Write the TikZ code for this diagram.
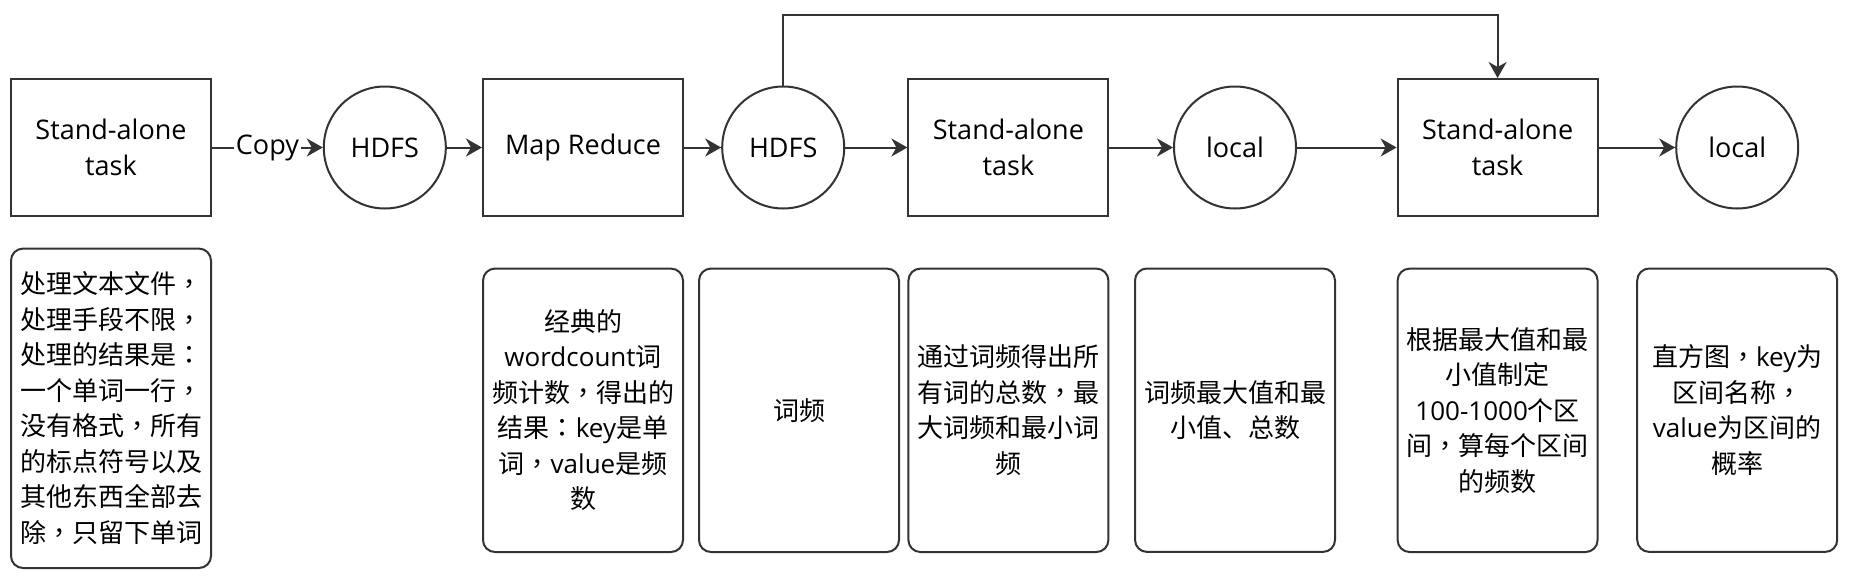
\documentclass[tikz,border=0pt]{standalone}
\usepackage{fontspec}
\setmainfont{Open Sans}
\newfontfamily\cjk{Noto Sans CJK SC}
\newfontfamily\cjktc{Noto Sans CJK TC}
\newcommand\latn[1]{{\normalfont #1}}
% centred full-width punctuation
\catcode`\，=\active \def，{{\cjktc\string，}}
\catcode`\：=\active \def：{{\cjktc\string：}}
\usetikzlibrary{arrows.meta,
                positioning}
\definecolor{linegray}{HTML}{333333}
\tikzset{
        base/.style={draw=linegray, line width=1pt, align=center, inner sep=0pt,
                     font=\fontsize{13.5}{17.75}\selectfont},
        task/.style={base, rectangle, minimum width=100pt, minimum height=68.5pt},
        store/.style={base, circle, minimum size=61pt},
        note/.style={base, rectangle, rounded corners=6pt, minimum width=100pt,
                     minimum height=141.7pt, font=\fontsize{13}{17.75}\selectfont\cjk},
        lbl/.style={fill=white, inner sep=1pt, font=\fontsize{13.5}{17.75}\selectfont},
        myarrow/.style={-{Stealth[length=8pt, width=9pt, inset=2.5pt]}, draw=linegray,
                        line width=1pt},
}

\begin{document}
\begin{tikzpicture}[x=0.5pt, y=-0.5pt]
    \useasboundingbox (0,0) rectangle (1850,584);

    % pipeline
    \node[task] (task1) at (111,147.5) {Stand-alone\\task};
    \node[store, right=55.4pt of task1] (hdfs1) {HDFS};
    \node[task, right=17.6pt of hdfs1] (mapred) {Map Reduce};
    \node[store, right=18.6pt of mapred] (hdfs2) {HDFS};
    \node[task, right=31.1pt of hdfs2] (task2) {Stand-alone\\task};
    \node[store, right=31.8pt of task2] (local1) {local};
    \node[task, right=49.8pt of local1] (task3) {Stand-alone\\task};
    \node[store, right=38.3pt of task3] (local2) {local};

    \draw[myarrow] (task1) -- node[lbl] {Copy} (hdfs1);
    \draw[myarrow] (hdfs1) -- (mapred);
    \draw[myarrow] (mapred) -- (hdfs2);
    \draw[myarrow] (hdfs2) -- (task2);
    \draw[myarrow] (task2) -- (local1);
    \draw[myarrow] (local1) -- (task3);
    \draw[myarrow] (task3) -- (local2);
    \draw[myarrow] (hdfs2.north) -- ++(0,-71) -| (task3.north);

    % notes
    \node[note, minimum height=159.7pt, below=15.3pt of task1] (note1)
        {处理文本文件，\\处理手段不限，\\处理的结果是：\\一个单词一行，\\没有格式，所有\\的标点符号以及\\其他东西全部去\\除，只留下单词};
    \node[note, below=25.3pt of mapred] (note2)
        {经典的\\\latn{wordcount}词\\频计数，得出的\\结果：\latn{key}是单\\词，\latn{value}是频\\数};
    \node[note, right=7pt of note2] (note3) {词频};
    \node[note, below=25.3pt of task2] (note4)
        {通过词频得出所\\有词的总数，最\\大词频和最小词\\频};
    \node[note, below=29pt of local1] (note5) {词频最大值和最\\小值、总数};
    \node[note, below=25.3pt of task3] (note6)
        {根据最大值和最\\小值制定\\\latn{100-1000}个区\\间，算每个区间\\的频数};
    \node[note, below=29pt of local2] (note7)
        {直方图，\latn{key}为\\区间名称，\\\latn{value}为区间的\\概率};
\end{tikzpicture}
\end{document}
